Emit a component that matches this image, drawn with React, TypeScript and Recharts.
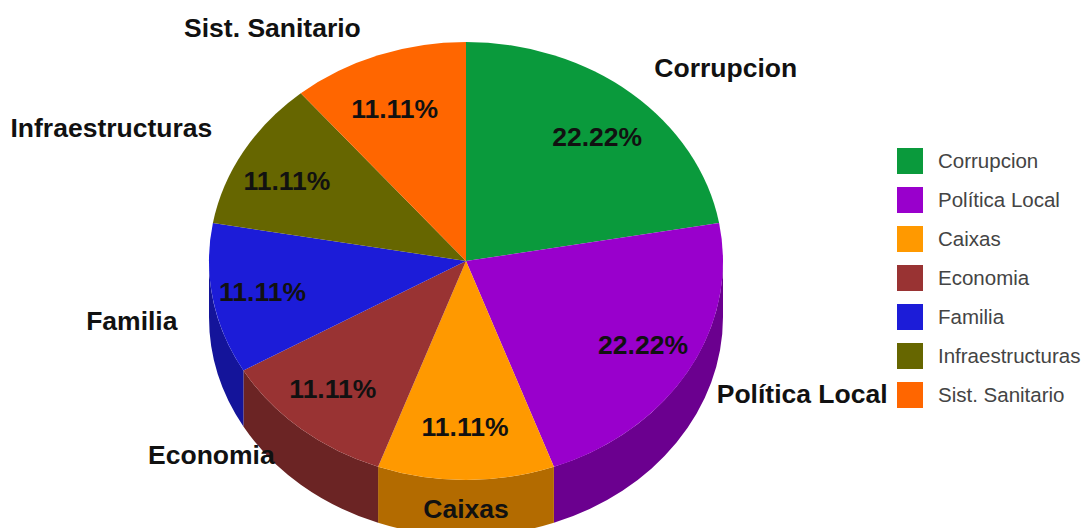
import { Legend, Pie, PieChart } from "recharts";

const categories = ["Corrupcion", "Política Local", "Caixas", "Economia", "Familia", "Infraestructuras", "Sist. Sanitario"];
const values = [2, 2, 1, 1, 1, 1, 1];
const topColors = ["#0a9a3c", "#9900cc", "#ff9900", "#993333", "#1c1cd8", "#666600", "#ff6600"];
const wallColors = ["#076b2a", "#6b008f", "#b36b00", "#6b2424", "#14149a", "#474700", "#b34700"];

// hand placement for the outside names, same order as categories
const labelNudge = [
  [0, -2],
  [-3, 8],
  [0, -2],
  [-3, 3],
  [0, 17],
  [0, -8],
  [-5, 2],
];

const CX = 466;
const CY = 261;
const RX = 257;
const RY = 219;
const DEPTH = 56;

const pieData = categories.map((name, i) => ({ name, value: values[i], fill: topColors[i] }));
const wallData = categories.map((name, i) => ({ name, value: values[i], fill: wallColors[i] }));

const rad = (deg: number) => (deg * Math.PI) / 180;
const px = (deg: number) => CX + RX * Math.cos(rad(deg));
const py = (deg: number) => CY - RY * Math.sin(rad(deg));

// top face: the pie's circular sector squashed to an ellipse
function TopSlice({ startAngle, endAngle, fill }: any) {
  const large = startAngle - endAngle > 180 ? 1 : 0;
  const d = `M ${CX} ${CY} L ${px(startAngle)} ${py(startAngle)} A ${RX} ${RY} 0 ${large} 1 ${px(endAngle)} ${py(endAngle)} Z`;
  return <path d={d} fill={fill} />;
}

// side wall, only the part of the rim facing the viewer
function WallSlice({ startAngle, endAngle, fill }: any) {
  const hi = Math.min(startAngle, 0);
  const lo = Math.max(endAngle, -180);
  if (lo >= hi) return null;
  const d = `M ${px(hi)} ${py(hi)} A ${RX} ${RY} 0 0 1 ${px(lo)} ${py(lo)} L ${px(lo)} ${py(lo) + DEPTH} A ${RX} ${RY} 0 0 0 ${px(hi)} ${py(hi) + DEPTH} Z`;
  return <path d={d} fill={fill} />;
}

function SliceLabel({ midAngle, percent, name, index }: any) {
  const cos = Math.cos(rad(midAngle));
  const sin = Math.sin(rad(midAngle));
  const [nx, ny] = labelNudge[index];
  const anchor = Math.abs(cos) < 0.05 ? "middle" : cos > 0 ? "start" : "end";
  const textStyle = { fontFamily: "Liberation Sans", fontWeight: 700, fontSize: 26.5, fill: "#111" };
  return (
    <g>
      <text
        x={CX + RX * 0.8 * cos - 1}
        y={CY - RY * 0.75 * sin + 2}
        textAnchor="middle"
        dominantBaseline="central"
        style={textStyle}
      >
        {`${(percent * 100).toFixed(2)}%`}
      </text>
      <text
        x={CX + RX * 1.14 * cos + nx}
        y={CY - RY * 1.14 * sin + ny}
        textAnchor={anchor}
        dominantBaseline="central"
        style={textStyle}
      >
        {name}
      </text>
    </g>
  );
}

// the wall pie also lands in the payload, so keep only the top face entries
function LegendList({ payload }: any) {
  const items = (payload || []).filter((entry: any) => topColors.includes(entry.color));
  return (
    <div>
      {items.map((entry: any) => (
        <div key={entry.value} style={{ display: "flex", alignItems: "center", height: 38.9 }}>
          <span style={{ width: 26, height: 26, background: entry.color, marginRight: 15 }} />
          <span style={{ fontFamily: "Liberation Sans", fontSize: 20.5, color: "#444" }}>{entry.value}</span>
        </div>
      ))}
    </div>
  );
}

export default function App() {
  return (
    <div style={{ position: "absolute", left: 0, top: 0, background: "#fff" }}>
      <PieChart width={1085} height={528} margin={{ top: 0, right: 0, bottom: 0, left: 0 }}>
        <Pie
          data={wallData}
          dataKey="value"
          nameKey="name"
          cx={CX}
          cy={CY}
          outerRadius={RX}
          startAngle={90}
          endAngle={-270}
          stroke="none"
          legendType="none"
          shape={WallSlice}
          isAnimationActive={false}
        />
        <Pie
          data={pieData}
          dataKey="value"
          nameKey="name"
          cx={CX}
          cy={CY}
          outerRadius={RX}
          startAngle={90}
          endAngle={-270}
          stroke="none"
          shape={TopSlice}
          label={SliceLabel}
          labelLine={false}
          isAnimationActive={false}
        />
        <Legend
          layout="vertical"
          align="right"
          verticalAlign="top"
          content={LegendList}
          itemSorter={null}
          wrapperStyle={{ left: 897, top: 142, width: 188 }}
        />
      </PieChart>
    </div>
  );
}
